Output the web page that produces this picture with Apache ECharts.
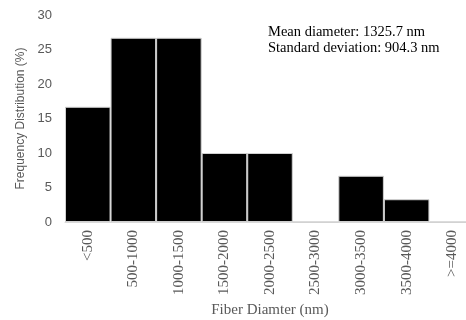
<!DOCTYPE html>
<html>
<head>
<meta charset="utf-8">
<script src="https://cdn.jsdelivr.net/npm/echarts@6/dist/echarts.min.js"></script>
<style>
  html, body { margin: 0; padding: 0; background: #fff; }
  #chart { width: 466px; height: 320px; }
</style>
</head>
<body>
<div id="chart"></div>
<script>
// Fiber diameter bins and their share of measured fibers (%)
const categories = ['<500', '500-1000', '1000-1500', '1500-2000', '2000-2500', '2500-3000', '3000-3500', '3500-4000', '>=4000'];
const frequency = [16.7, 26.7, 26.7, 10, 10, 0, 6.7, 3.3, 0];
const yTicks = { min: 0, max: 30, interval: 5 };
const statsLines = ['Mean diameter: 1325.7 nm', 'Standard deviation: 904.3 nm'];

const serif = '"Liberation Serif", "DejaVu Serif", serif';
const sans = '"Liberation Sans", "DejaVu Sans", sans-serif';
const chart = echarts.init(document.getElementById('chart'), null, { renderer: 'canvas' });

chart.setOption({
  animation: false,
  backgroundColor: '#ffffff',
  grid: { left: 65, right: -9, top: 15, bottom: 98, containLabel: false, outerBoundsMode: 'none' },
  xAxis: {
    type: 'category',
    data: categories,
    name: 'Fiber Diamter (nm)',
    nameLocation: 'middle',
    nameGap: 79,
    nameTextStyle: { fontFamily: serif, fontSize: 15, color: '#595959' },
    axisLine: { show: true, lineStyle: { color: '#d9d9d9', width: 1 } },
    axisTick: { show: false },
    axisLabel: { rotate: 90, interval: 0, margin: 8, fontFamily: serif, fontSize: 15, color: '#595959' }
  },
  yAxis: {
    type: 'value',
    min: yTicks.min,
    max: yTicks.max,
    interval: yTicks.interval,
    name: 'Frequency Distribution (%)',
    nameLocation: 'middle',
    nameGap: 35,
    nameTextStyle: { fontFamily: sans, fontSize: 12, color: '#595959' },
    axisLine: { show: false },
    axisTick: { show: false },
    splitLine: { show: false },
    axisLabel: { margin: 13, fontFamily: sans, fontSize: 13, color: '#595959' }
  },
  series: [{
    type: 'bar',
    data: frequency,
    barCategoryGap: '0%',
    itemStyle: { color: '#000000', borderColor: '#d0d0d0', borderWidth: 1 }
  }],
  graphic: [{
    type: 'text',
    left: 268,
    top: 24,
    style: {
      text: statsLines.join('\n'),
      font: '14.5px ' + serif,
      fill: '#000000',
      lineHeight: 16
    }
  }]
});
</script>
</body>
</html>
